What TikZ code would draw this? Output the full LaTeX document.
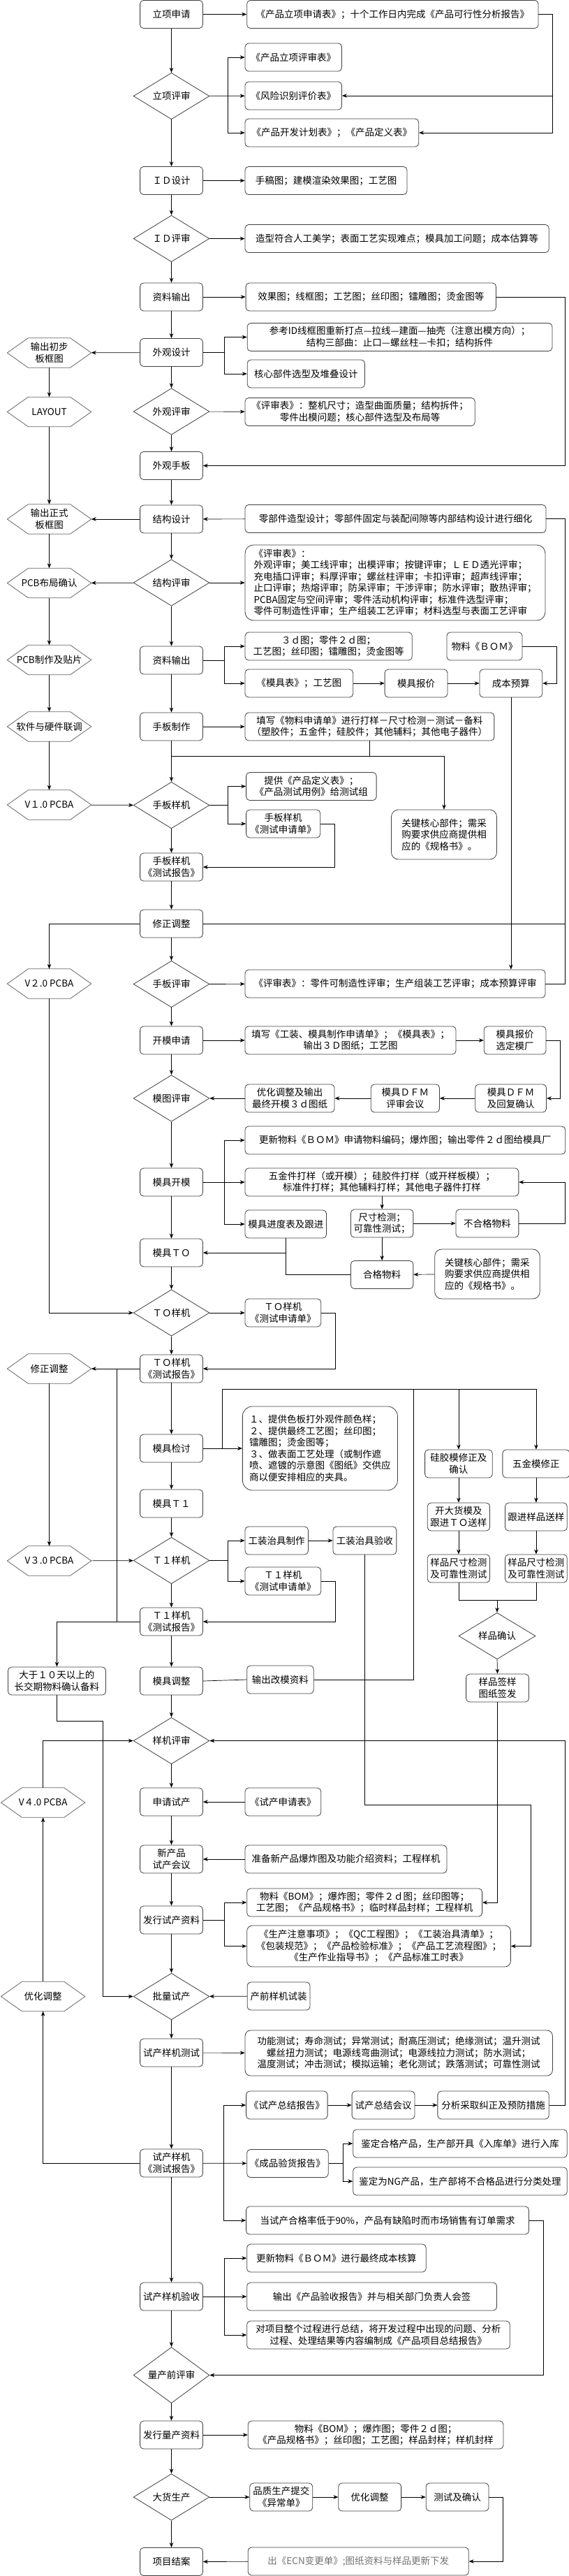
\documentclass[tikz,border=0pt]{standalone}
\usepackage{fontspec}
\newfontfamily\cjk{Noto Sans CJK SC}
\usetikzlibrary{shapes.geometric,arrows.meta,calc}
\newcommand\fz{\cjk\fontsize{13.5}{16.5}\selectfont}
\newcommand\hexo[1]{\draw[hexline] ([xshift=30pt]#1.north west) -- ([xshift=-30pt]#1.north east) -- (#1.east) -- ([xshift=-30pt]#1.south east) -- ([xshift=30pt]#1.south west) -- (#1.west) -- cycle;}
\tikzset{
 box/.style={draw=black!75, line width=0.8pt, rounded corners=5pt, align=center, minimum height=40pt, inner sep=1pt, font=\fz, fill=white},
 wd/.style={minimum width=#1*0.5224pt},
 mbox/.style={box, wd=172},
 dia/.style={diamond, draw=black!75, line width=0.8pt, minimum width=108.7pt, minimum height=49pt, inner sep=0pt, align=center, font=\fz, fill=white},
 hexn/.style={minimum width=120pt, minimum height=42pt, align=center, font=\fz, inner sep=0pt},
 hexline/.style={draw=black!60, line width=0.8pt},
 arr/.style={-{Stealth[length=7pt,width=5.5pt]}, line width=0.7pt},
 ln/.style={line width=0.7pt}
}
\begin{document}
\begin{tikzpicture}[x=0.5224pt,y=-1pt]
\useasboundingbox (0,0) rectangle (1560,3687);
% rails
\coordinate (Xa) at (1515,0); \coordinate (Xb) at (624,0); \coordinate (Xc) at (1550,0);
\coordinate (Xd) at (616,0); \coordinate (Xe) at (1527,0); \coordinate (Xf) at (918,0);
\coordinate (Xg) at (1535,0); \coordinate (Xh) at (920,0); \coordinate (Xi) at (320,0);
\coordinate (Xj) at (610,0); \coordinate (Xk) at (1133,0); \coordinate (Xm) at (1455,0);
\coordinate (Xn) at (282,0); \coordinate (Xo) at (614,0); \coordinate (Xp) at (940,0);
\coordinate (Xq) at (1490,0); \coordinate (Xr) at (1378,0);
\coordinate (Y1) at (0,1988); \coordinate (Y2) at (0,2290); \coordinate (Y3) at (0,2583); \coordinate (Y4) at (0,2463);
\coordinate (J1) at (470,1082);
% main column
\node[mbox] (m1) at (470,20.5) {立项申请};
\node[dia] (d1) at (470,137.5) {立项评审};
\node[mbox] (m2) at (470,258.5) {ＩＤ设计};
\node[dia] (d2) at (470,341.5) {ＩＤ评审};
\node[mbox] (m3) at (470,425) {资料输出};
\node[mbox] (m4) at (470,504.5) {外观设计};
\node[dia] (d3) at (470,589) {外观评审};
\node[mbox] (m5) at (470,666.5) {外观手板};
\node[mbox] (m6) at (470,743) {结构设计};
\node[dia] (d4) at (470,834) {结构评审};
\node[mbox] (m7) at (470,945) {资料输出};
\node[mbox] (m8) at (470,1040) {手板制作};
\node[dia] (d5) at (470,1152.5) {手板样机};
\node[mbox] (m9) at (470,1241) {手板样机\\《测试报告》};
\node[mbox] (m10) at (470,1322) {修正调整};
\node[dia] (d6) at (470,1408.5) {手板评审};
\node[mbox] (m11) at (470,1489) {开模申请};
\node[dia] (d7) at (470,1572) {模图评审};
\node[mbox] (m12) at (470,1692) {模具开模};
\node[mbox] (m13) at (470,1793) {模具ＴＯ};
\node[dia] (d8) at (470,1879) {ＴＯ样机};
\node[mbox] (m14) at (470,1959) {ＴＯ样机\\《测试报告》};
\node[mbox] (m15) at (470,2073) {模具检讨};
\node[mbox] (m16) at (470,2152) {模具Ｔ１};
\node[dia] (d9) at (470,2233.5) {Ｔ１样机};
\node[mbox] (m17) at (470,2321) {Ｔ１样机\\《测试报告》};
\node[mbox] (m18) at (470,2406) {模具调整};
\node[dia] (d10) at (470,2491.5) {样机评审};
\node[mbox] (m19) at (470,2579) {申请试产};
\node[mbox] (m20) at (470,2661) {新产品\\试产会议};
\node[mbox] (m21) at (470,2748) {发行试产资料};
\node[dia] (d11) at (470,2857.5) {批量试产};
\node[mbox] (m22) at (470,2938) {试产样机测试};
\node[mbox] (m23) at (470,3096) {试产样机\\《测试报告》};
\node[mbox] (m24) at (470,3287) {试产样机验收};
\node[dia] (d12) at (470,3399.5) {量产前评审};
\node[mbox] (m25) at (470,3485) {发行量产资料};
\node[dia] (d13) at (470,3574) {大货生产};
\node[mbox] (m26) at (470,3666.5) {项目结案};
% left hexagons
\node[hexn] (h1) at (135,505) {输出初步\\板框图}; \hexo{h1}
\node[hexn] (h2) at (135,589.5) {LAYOUT}; \hexo{h2}
\node[hexn] (h3) at (135,743) {输出正式\\板框图}; \hexo{h3}
\node[hexn] (h4) at (135,834.5) {PCB布局确认}; \hexo{h4}
\node[hexn] (h5) at (135,944.5) {PCB制作及贴片}; \hexo{h5}
\node[hexn] (h6) at (135,1040) {软件与硬件联调}; \hexo{h6}
\node[hexn] (h7) at (135,1152) {V１.0 PCBA}; \hexo{h7}
\node[hexn] (h8) at (135,1408) {V２.0 PCBA}; \hexo{h8}
\node[hexn] (h9) at (135,1959) {修正调整}; \hexo{h9}
\node[hexn] (h10) at (135,2234) {V３.0 PCBA}; \hexo{h10}
\node[hexn] (h11) at (118,2580) {V４.0 PCBA}; \hexo{h11}
\node[hexn] (h12) at (118,2857.5) {优化调整}; \hexo{h12}
\node[box, wd=268] (L) at (156,2406) {大于１０天以上的\\长交期物料确认备料};
% right nodes
\node[box, wd=799] (r1) at (1076.5,20.5) {《产品立项申请表》；十个工作日内完成《产品可行性分析报告》};
\node[box, wd=265] (r2) at (804.5,82) {《产品立项评审表》};
\node[box, wd=265] (r3) at (804.5,137) {《风险识别评价表》};
\node[box, wd=476] (r4) at (910,190) {《产品开发计划表》；《产品定义表》};
\node[box, wd=444] (r5) at (894,258.5) {手稿图；建模渲染效果图；工艺图};
\node[box, wd=833] (r6) at (1088.5,341.5) {造型符合人工美学；表面工艺实现难点；模具加工问题；成本估算等};
\node[box, wd=686] (r7) at (1017,425) {效果图；线框图；工艺图；丝印图；镭雕图；烫金图等};
\node[box, wd=836] (r8) at (1096,482.5) {参考ID线框图重新打点—拉线—建面—抽壳（注意出模方向）；\\结构三部曲：止口—螺丝柱—卡扣；结构拆件};
\node[box, wd=322] (r9) at (839,535) {核心部件选型及堆叠设计};
\node[box, wd=630] (r10) at (987,589.5) {《评审表》：整机尺寸；造型曲面质量；结构拆件；\\零件出模问题；核心部件选型及布局等};
\node[box, wd=825] (r11) at (1084.5,742.5) {零部件造型设计；零部件固定与装配间隙等内部结构设计进行细化};
\node[box, wd=823, minimum height=108pt, align=left, rounded corners=12pt] (r12) at (1083.5,834) {《评审表》：\\外观评审；美工线评审；出模评审；按键评审；ＬＥＤ透光评审；\\充电插口评审；料厚评审；螺丝柱评审；卡扣评审；超声线评审；\\止口评审；热熔评审；防呆评审；干涉评审；防水评审；散热评审；\\PCBA固定与空间评审；零件活动机构评审；标准件选型评审；\\零件可制造性评审；生产组装工艺评审；材料选型与表面工艺评审};
\node[box, wd=458] (r13) at (901,925) {３ｄ图；零件２ｄ图；\\工艺图；丝印图；镭雕图；烫金图等};
\node[box, wd=207] (r14) at (1328.5,925) {物料《ＢＯＭ》};
\node[box, wd=296] (r15) at (820,978) {《模具表》；工艺图};
\node[box, wd=172] (r16) at (1141,978) {模具报价};
\node[box, wd=172] (r17) at (1401,978) {成本预算};
\node[box, wd=683] (r18) at (1013.5,1040) {填写《物料申请单》进行打样－尺寸检测－测试－备料\\（塑胶件；五金件；硅胶件；其他辅料；其他电子器件）};
\node[box, wd=357] (r19) at (853.5,1125.5) {提供《产品定义表》；\\《产品测试用例》给测试组};
\node[box, wd=203] (r20) at (776.5,1179) {手板样机\\《测试申请单》};
\node[box, wd=289, minimum height=71pt, align=left, rounded corners=10pt] (r21) at (1217.5,1194.5) {关键核心部件；需采\\购要求供应商提供相\\应的《规格书》。};
\node[box, wd=823] (r22) at (1083.5,1408) {《评审表》：零件可制造性评审；生产组装工艺评审；成本预算评审};
\node[box, wd=578] (r23) at (961,1489) {填写《工装、模具制作申请单》；《模具表》；\\输出３Ｄ图纸；工艺图};
\node[box, wd=170] (r24) at (1412,1489) {模具报价\\选定模厂};
\node[box, wd=245] (r25) at (794.5,1572) {优化调整及输出\\最终开模３ｄ图纸};
\node[box, wd=188] (r26) at (1111,1572) {模具ＤＦＭ\\评审会议};
\node[box, wd=195] (r27) at (1400.5,1572) {模具ＤＦＭ\\及回复确认};
\node[box, wd=878] (r28) at (1111,1632) {更新物料《ＢＯＭ》申请物料编码；爆炸图；输出零件２ｄ图给模具厂};
\node[box, wd=750] (r29) at (1047,1692) {五金件打样（或开模）；硅胶件打样（或开样板模）；\\标准件打样；其他辅料打样；其他电子器件打样};
\node[box, wd=223] (r30) at (783.5,1752) {模具进度表及跟进};
\node[box, wd=171] (r31) at (1047.5,1751) {尺寸检测；\\可靠性测试；};
\node[box, wd=172] (r32) at (1336,1751) {不合格物料};
\node[box, wd=171] (r33) at (1047.5,1824.5) {合格物料};
\node[box, wd=288, minimum height=71pt, align=left, rounded corners=10pt] (r34) at (1336,1823.5) {关键核心部件；需采\\购要求供应商提供相\\应的《规格书》。};
\node[box, wd=208] (r35) at (776,1879) {ＴＯ样机\\《测试申请单》};
\node[box, wd=425, minimum height=120pt, align=left, rounded corners=14pt] (r36) at (877.5,2073) {１、提供色板打外观件颜色样；\\２、提供最终工艺图；丝印图；\\镭雕图；烫金图等；\\３、做表面工艺处理（或制作遮\\喷、遮镀的示意图《图纸》交供应\\商以便安排相应的夹具。};
\node[box, wd=185] (r37) at (1257.5,2095) {硅胶模修正及\\确认};
\node[box, wd=184] (r38) at (1470,2095) {五金模修正};
\node[box, wd=171] (r39) at (1257.5,2171) {开大货模及\\跟进ＴＯ送样};
\node[box, wd=170] (r40) at (1470,2171) {跟进样品送样};
\node[box, wd=171] (r41) at (1257.5,2245) {样品尺寸检测\\及可靠性测试};
\node[box, wd=170] (r42) at (1470,2245) {样品尺寸检测\\及可靠性测试};
\node[dia, minimum width=110pt] (d14) at (1363,2341.5) {样品确认};
\node[box, wd=172] (r43) at (1364,2416) {样品签样\\图纸签发};
\node[box, wd=173] (r44) at (758.5,2205) {工装治具制作};
\node[box, wd=174] (r45) at (1000,2205) {工装治具验收};
\node[box, wd=208] (r46) at (776,2263) {Ｔ１样机\\《测试申请单》};
\node[box, wd=183] (r47) at (768.5,2404) {输出改模资料};
\node[box, wd=208] (r48) at (776,2579) {《试产申请表》};
\node[box, wd=553] (r49) at (948.5,2661) {准备新产品爆炸图及功能介绍资料；工程样机};
\node[box, wd=645] (r50) at (999.5,2723) {物料《BOM》；爆炸图；零件２ｄ图；丝印图等；\\工艺图；《产品规格书》；临时样品封样；工程样机};
\node[box, wd=723, minimum height=59pt, rounded corners=8pt] (r51) at (1038.5,2785.5) {《生产注意事项》；《QC工程图》；《工装治具清单》；\\《包装规范》；《产品检验标准》；《产品工艺流程图》；\\《生产作业指导书》；《产品标准工时表》};
\node[box, wd=172] (r52) at (764,2857) {产前样机试装};
\node[box, wd=843, minimum height=65pt, rounded corners=8pt] (r53) at (1093.5,2938.5) {功能测试；寿命测试；异常测试；耐高压测试；绝缘测试；温升测试\\螺丝扭力测试；电源线弯曲测试；电源线拉力测试；防水测试；\\温度测试；冲击测试；模拟运输；老化测试；跌落测试；可靠性测试};
\node[box, wd=223] (r54) at (786.5,3013) {《试产总结报告》};
\node[box, wd=172] (r55) at (1051,3013) {试产总结会议};
\node[box, wd=305] (r56) at (1352.5,3013) {分析采取纠正及预防措施};
\node[box, wd=223] (r57) at (788.5,3096.5) {《成品验货报告》};
\node[box, wd=587] (r58) at (1261.5,3068) {鉴定合格产品，生产部开具《入库单》进行入库};
\node[box, wd=587] (r59) at (1261.5,3122) {鉴定为NG产品，生产部将不合格品进行分类处理};
\node[box, wd=775] (r60) at (1062.5,3178) {当试产合格率低于90\%，产品有缺陷时而市场销售有订单需求};
\node[box, wd=491] (r61) at (922.5,3232) {更新物料《ＢＯＭ》进行最终成本核算};
\node[box, wd=685] (r62) at (1019.5,3287) {输出《产品验收报告》并与相关部门负责人会签};
\node[box, wd=721] (r63) at (1037.5,3342) {对项目整个过程进行总结，将开发过程中出现的问题、分析\\过程、处理结果等内容编制成《产品项目总结报告》};
\node[box, wd=700] (r64) at (1030,3485) {物料《BOM》；爆炸图；零件２ｄ图；\\《产品规格书》；丝印图；工艺图；样品封样；样机封样};
\node[box, wd=172] (r65) at (771,3574) {品质生产提交\\《异常单》};
\node[box, wd=172] (r66) at (1014,3574) {优化调整};
\node[box, wd=172] (r67) at (1254,3574) {测试及确认};
\node[box, wd=605, text=black!55] (r68) at (982.5,3666) {出《ECN变更单》;图纸资料与样品更新下发};
% main vertical arrows
\foreach \a/\b in {m1/d1,d1/m2,m2/d2,d2/m3,m3/m4,m4/d3,d3/m5,m5/m6,m6/d4,d4/m7,m7/m8,m8/d5,d5/m9,m9/m10,m10/d6,d6/m11,m11/d7,d7/m12,m12/m13,m13/d8,d8/m14,m14/m15,m15/m16,m16/d9,d9/m17,m17/m18,m18/d10,d10/m19,m19/m20,m20/m21,m21/d11,d11/m22,m22/m23,m23/m24,m24/d12,d12/m25,m25/d13,d13/m26}
  \draw[arr] (\a.south) -- (\b.north);
\foreach \a/\b in {h1/h2,h2/h3,h3/h4,h4/h5,h5/h6,h6/h7,h9/h10,r37/r39,r39/r41,r38/r40,r40/r42,d14/r43,r31/r33}
  \draw[arr] (\a.south) -- (\b.north);
\draw[arr] (h12.north) -- (h11.south);
% horizontal arrows
\foreach \a/\b in {m1/r1,d1/r3,m2/r5,d2/r6,m3/r7,m4/h1,d3/r10,r11/m6,m6/h3,d4/r12,d4/h4,r15/r16,r16/r17,m8/r18,h7/d5,d6/r22,m11/r23,r23/r24,r27/r26,r26/r25,r25/d7,m12/r29,r31/r32,r34/r33,d8/r35,m14/h9,m15/r36,r44/r45,h10/d9,r48/m19,r49/m20,r52/d11,m22/r53,m23/r57,r54/r55,r55/r56,m25/r64,d13/r65,r65/r66,r66/r67,r68/m26}
  \draw[arr] (\a) -- (\b);
% bends
\draw[arr] (r1.east) -- (r1.east -| Xa) |- (r4.east);
\draw[arr] (r3.east -| Xa) -- (r3.east);
\draw[arr] (d1.east -| Xb) |- (r2.west);
\draw[arr] (d1.east -| Xb) |- (r4.west);
\draw[arr] (r7.east) -- (r7.east -| Xc) |- (m5.east);
\draw[arr] (m4.east) -- (m4.east -| Xd) |- (r8.west);
\draw[arr] (m4.east -| Xd) |- (r9.west);
\draw[arr] (m7.east) -- (m7.east -| Xd) |- (r13.west);
\draw[arr] (m7.east -| Xd) |- (r15.west);
\draw[arr] (r14.east) -- (r14.east -| Xe) |- (r17.east);
\draw[arr] (r17.south) -- (r17.south |- r22.north);
\draw[ln] (r18.south) -- (r18.south |- J1);
\draw[arr] (J1) -| (r21.north);
\draw[arr] (d5.east) -- (d5.east -| Xb) |- (r19.west);
\draw[arr] (d5.east -| Xb) |- (r20.west);
\draw[arr] (r20.east) -- (r20.east -| Xf) |- (m9.east);
\draw[arr] (m10.west) -| (h8.north);
\draw[ln] (m10.east) -- (m10.east -| Xc);
\draw[ln] (r22.east) -- (r22.east -| Xc) |- (r11.east);
\draw[arr] (r24.east) -- (r24.east -| Xg) |- (r27.east);
\draw[arr] (m12.east -| Xd) |- (r28.west);
\draw[arr] (m12.east -| Xd) |- (r30.west);
\draw[arr] (r31.north |- r29.south) -- (r31.north);
\draw[arr] (r32.east) -- (r32.east -| Xc) |- (r29.east);
\draw[ln] (r33.west) -| (r30.south);
\draw[arr] (r30.south |- m13.east) -- (m13.east);
\draw[arr] (h8.south) |- (d8.west);
\draw[arr] (r35.east) -- (r35.east -| Xh) |- (m14.east);
\draw[ln] (m14.west -| Xi) -- (m17.west -| Xi);
\draw[arr] (m15.east -| Xj) -- (Xj |- Y1) -| (r38.north);
\draw[arr] (r37.north |- Y1) -- (r37.north);
\draw[ln] (r47.east) -| (Xk |- Y1);
\draw[ln] (r41.south) -- (r41.south |- Y2) -| (r42.south);
\draw[arr] (d14.north |- Y2) -- (d14.north);
\draw[arr] (r43.south) |- (r50.east);
\draw[arr] (d9.east) -- (d9.east -| Xb) |- (r44.west);
\draw[arr] (d9.east -| Xb) |- (r46.west);
\draw[arr] (r45.south) -- (r45.south |- Y3) -| (Xm |- r51.east) -- (r51.east);
\draw[arr] (r46.east) -- (r46.east -| Xh) |- (m17.east);
\draw[arr] (m17.west) -| (L.north);
\draw[arr] (L.south) -- (L.south |- Y4) -| (Xn |- d11.west) -- (d11.west);
\draw[ln] (m18.east) -- (r47.west);
\draw[arr] (h11.north) |- (d10.west);
\draw[arr] (r56.east) -- (r56.east -| Xc) |- (d10.east);
\draw[arr] (m21.east) -- (m21.east -| Xd) |- (r50.west);
\draw[arr] (m21.east -| Xd) |- (r51.west);
\draw[arr] (m23.east -| Xo) |- (r54.west);
\draw[arr] (m23.east -| Xo) |- (r60.west);
\draw[arr] (m23.west) -| (h12.south);
\draw[arr] (r57.east) -- (r57.east -| Xp) |- (r58.west);
\draw[arr] (r57.east -| Xp) |- (r59.west);
\draw[arr] (r60.east) -- (r60.east -| Xq) |- (d12.east);
\draw[arr] (m24.east) -- (m24.east -| Xd) |- (r61.west);
\draw[arr] (m24.east -| Xd) |- (r62.west);
\draw[arr] (m24.east -| Xd) |- (r63.west);
\draw[arr] (r67.east) -- (r67.east -| Xr) |- (r68.east);
\end{tikzpicture}
\end{document}
